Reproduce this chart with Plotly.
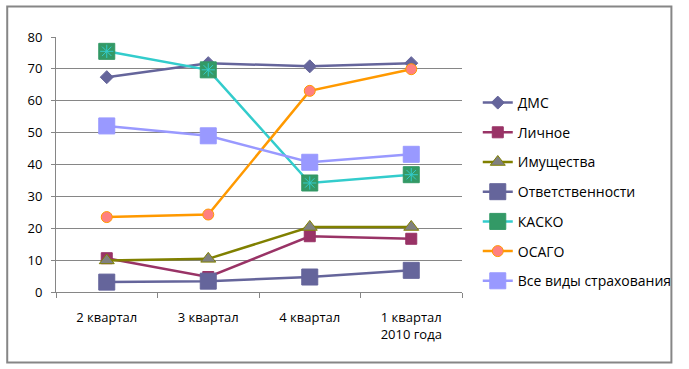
import plotly.graph_objects as go

categories = ["2 квартал", "3 квартал", "4 квартал", "1 квартал<br>2010 года"]
dms = [67.4, 71.8, 70.8, 71.8]
lichnoe = [10.6, 4.7, 17.5, 16.7]
imush = [9.9, 10.4, 20.4, 20.4]
otvet = [3.1, 3.4, 4.7, 6.8]
kasko = [75.5, 69.7, 34.2, 36.8]
osago = [23.5, 24.3, 63.1, 69.9]
vse = [52.1, 49.0, 40.7, 43.2]

FONT = "Open Sans"
W, H = 689, 369
L, R, T, B = 56, 221, 37, 77
pw, ph = W - L - R, H - T - B

fig = go.Figure()

def add(name, y, lc, sym, size, fill, mline, lw=2.5, group=None, show=True):
    fig.add_trace(go.Scatter(
        x=categories, y=y, name=name, mode="lines+markers",
        line=dict(color=lc, width=lw),
        marker=dict(symbol=sym, size=size, color=fill, line=dict(color=mline, width=1)),
        legendgroup=group or name, showlegend=show,
    ))

add("ДМС", dms, "#65659B", "diamond", 10, "#65659B", "#65659B")
add("Личное", lichnoe, "#993366", "square", 11, "#993366", "#993366")
add("Имущества", imush, "#808000", "triangle-up", 13, "#808080", "#808000")
add("Ответственности", otvet, "#65659B", "square", 16, "#65659B", "#65659B")
add("КАСКО", kasko, "#33CCCC", "square", 16, "#339966", "#339966")
fig.add_trace(go.Scatter(
    x=categories, y=kasko, mode="markers", showlegend=False, legendgroup="КАСКО",
    marker=dict(symbol="asterisk-open", size=11, color="#33CCCC", line=dict(color="#33CCCC", width=1)),
    hoverinfo="skip",
))
add("ОСАГО", osago, "#FF9900", "circle", 11, "#FF8080", "#FF9900")
add("Все виды страхования", vse, "#9999FF", "square", 16, "#9999FF", "#9999FF")

fig.update_layout(
    width=W, height=H,
    margin=dict(l=L, r=R, t=T, b=B),
    paper_bgcolor="white", plot_bgcolor="white",
    font=dict(family=FONT, size=13, color="#000000"),
    showlegend=True,
    legend=dict(
        x=(484 - L) / pw, xanchor="left",
        y=(H - B - 87) / ph, yanchor="top",
        font=dict(family=FONT, size=14, color="#000000"),
        tracegroupgap=8.5, itemwidth=30,
        bgcolor="rgba(0,0,0,0)",
    ),
    xaxis=dict(
        type="category", showgrid=False, showline=True, linecolor="#868686", linewidth=1,
        ticks="outside", tickson="boundaries", ticklen=5, tickcolor="#868686",
        ticklabelstandoff=13, range=[-0.5, 3.5], automargin=False,
    ),
    yaxis=dict(
        range=[0, 80], dtick=10, showgrid=True, gridcolor="#868686", gridwidth=1,
        showline=True, linecolor="#868686", linewidth=1,
        ticks="outside", ticklen=4, tickcolor="#868686", zeroline=False,
        ticklabelstandoff=6, automargin=False,
    ),
)

# chart frame drawn in pixel units around the paper
bx0, bx1 = (6.5 - L) / pw, (680.5 - L) / pw
by0, by1 = (H - B - 362.5) / ph, (H - B - 6.5) / ph
fig.add_shape(type="rect", xref="paper", yref="paper", x0=bx0, y0=by0, x1=bx1, y1=by1,
              line=dict(color="#868686", width=2), fillcolor="rgba(0,0,0,0)", layer="above")

fig.write_html("out.html", config={"displayModeBar": False},
               post_script="document.body.style.margin='0';document.body.style.overflow='hidden';")
